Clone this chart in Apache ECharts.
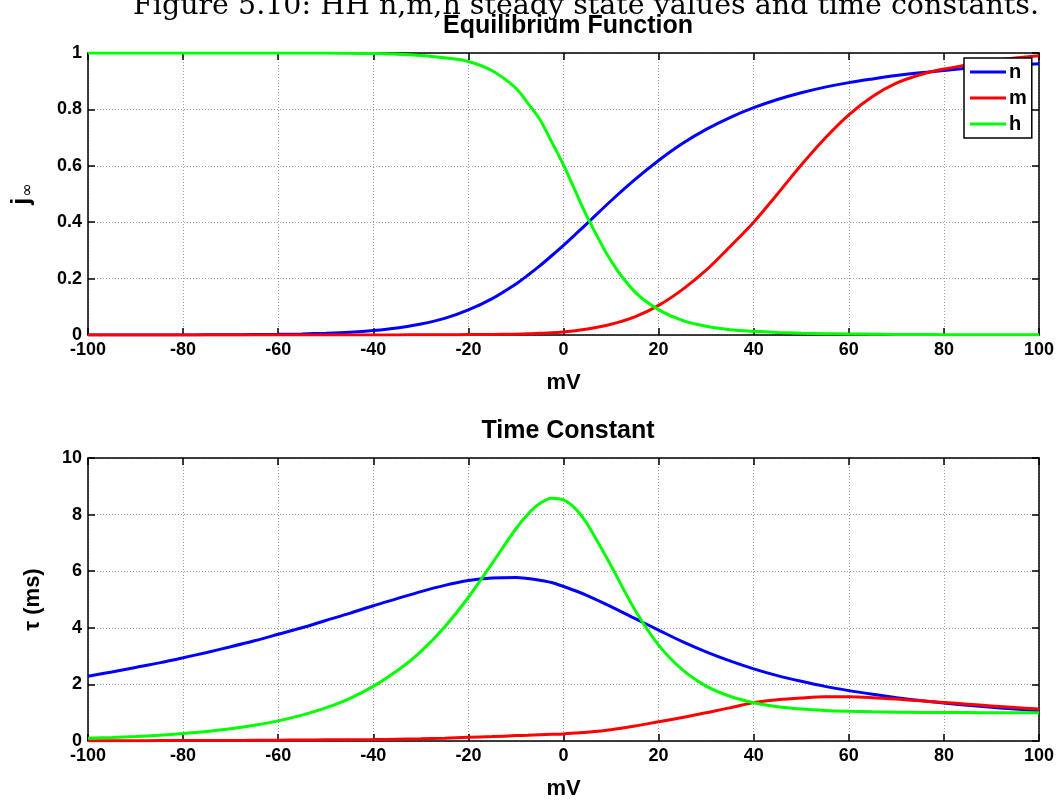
<!DOCTYPE html>
<html>
<head>
<meta charset="utf-8">
<script src="https://cdn.jsdelivr.net/npm/echarts@6/dist/echarts.min.js"></script>
<style>
html,body{margin:0;padding:0;background:#fff;}
#chart{width:1063px;height:801px;}
</style>
</head>
<body>
<div id="chart"></div>
<script>
// Membrane voltage (mV)
const voltage = [-100,-95,-90,-85,-80,-75,-70,-65,-60,-55,-50,-45,-40,-35,-30,-25,-20,-15,-10,-7.5,-5,-2.5,0,2.5,5,10,15,20,25,30,35,40,45,50,55,60,65,70,75,80,85,90,95,100];

// Equilibrium functions
const nInf = [0.000,0.000,0.0001,0.0002,0.0003,0.0005,0.0009,0.0015,0.0024,0.0038,0.0063,0.010,0.016,0.025,0.039,0.059,0.089,0.129,0.181,0.212,0.245,0.281,0.318,0.357,0.396,0.476,0.551,0.619,0.679,0.729,0.771,0.806,0.835,0.859,0.879,0.895,0.908,0.920,0.930,0.938,0.946,0.952,0.957,0.962];
const mInf = [0,0,0,0,0,0,0,0,0,0.0001,0.0001,0.0002,0.0003,0.0004,0.0006,0.0009,0.0014,0.002,0.003,0.004,0.006,0.008,0.011,0.015,0.021,0.038,0.064,0.105,0.161,0.230,0.313,0.400,0.500,0.603,0.698,0.781,0.846,0.893,0.923,0.943,0.958,0.973,0.982,0.990];
const hInf = [1,1,1,1,1,1,1,1,1,1,1,0.999,0.998,0.996,0.991,0.983,0.970,0.937,0.875,0.822,0.765,0.685,0.603,0.510,0.418,0.263,0.153,0.090,0.052,0.031,0.019,0.013,0.009,0.0065,0.0048,0.0036,0.0027,0.0021,0.0016,0.0013,0.001,0.0008,0.0006,0.0005];

// Time constants (ms)
const tauN = [2.29,2.44,2.60,2.76,2.94,3.13,3.33,3.54,3.77,4.00,4.26,4.51,4.78,5.03,5.28,5.50,5.67,5.76,5.78,5.74,5.68,5.60,5.46,5.31,5.14,4.75,4.33,3.92,3.51,3.15,2.83,2.55,2.31,2.11,1.93,1.78,1.65,1.53,1.43,1.34,1.26,1.19,1.13,1.07];
const tauM = [0.01,0.01,0.01,0.015,0.015,0.02,0.02,0.025,0.03,0.035,0.04,0.045,0.05,0.065,0.08,0.10,0.13,0.155,0.19,0.205,0.22,0.235,0.25,0.28,0.31,0.40,0.53,0.68,0.83,1.00,1.17,1.36,1.46,1.52,1.56,1.56,1.53,1.48,1.42,1.36,1.30,1.24,1.18,1.13];
const tauH = [0.096,0.124,0.159,0.204,0.262,0.336,0.431,0.554,0.711,0.913,1.17,1.50,1.93,2.48,3.16,4.03,5.08,6.28,7.50,8.01,8.39,8.58,8.52,8.21,7.67,6.19,4.64,3.39,2.52,1.94,1.58,1.35,1.21,1.13,1.08,1.05,1.03,1.02,1.01,1.005,1.003,1.002,1.001,1.0];

const seriesNames = ['n','m','h'];
const seriesColors = ['#0000ff','#ff0000','#00ff00'];
const figureCaption = 'Figure 5.10: HH n,m,h steady state values and time constants.';
</script>
<script>
const pairs = arr => voltage.map((v,i)=>[v, arr[i]]);
const chart = echarts.init(document.getElementById('chart'), null, {renderer:'canvas'});
const FONT = 'Liberation Sans, Arial, sans-serif';
const lbl = {fontFamily:FONT, fontWeight:'bold', fontSize:18, color:'#000'};
const gridLine = {show:true, lineStyle:{color:'#9a9a9a', type:[1,2], width:1}};
const axLine = {show:true, onZero:false, lineStyle:{color:'#000', width:1.5}};
const tick = {show:true, inside:true, length:7, lineStyle:{color:'#000', width:1.5}};

function xAx(grid, pos, main){
  return {type:'value', gridIndex:grid, position:pos, min:-100, max:100, interval:20,
    axisLine:axLine, axisTick:tick, axisLabel:main?Object.assign({margin:6}, lbl):{show:false},
    splitLine:main?gridLine:{show:false},
    name: main?'mV':'', nameLocation:'middle', nameGap:37,
    nameTextStyle:{fontFamily:FONT, fontWeight:'bold', fontSize:22, color:'#000'}};
}
function yAx(grid, pos, main, max, interval, name, nameStyle){
  return {type:'value', gridIndex:grid, position:pos, min:0, max:max, interval:interval,
    axisLine:axLine, axisTick:tick, axisLabel:main?Object.assign({margin:6}, lbl):{show:false},
    splitLine:main?gridLine:{show:false},
    name: main?name:'', nameLocation:'middle', nameRotate:90, nameGap:nameStyle.gap,
    nameTextStyle:nameStyle.style};
}

const lineSeries = (name, color, data, xi, yi) => ({
  name, type:'line', data, xAxisIndex:xi, yAxisIndex:yi, smooth:0.3,
  showSymbol:false, symbol:'none', lineStyle:{color, width:3}, itemStyle:{color}, z:3,
  animation:false
});

const option = {
  animation:false,
  backgroundColor:'#fff',
  title:[
    {text:'Equilibrium Function', left:563, top:9, textAlign:'center',
     textStyle:{fontFamily:FONT, fontWeight:'bold', fontSize:25, color:'#000'}},
    {text:'Time Constant', left:563, top:414, textAlign:'center',
     textStyle:{fontFamily:FONT, fontWeight:'bold', fontSize:25, color:'#000'}}
  ],
  graphic:[{type:'text', left:133, top:-8,
    style:{text:figureCaption, font:'28.5px "DejaVu Serif", serif', fill:'#000'}}],
  legend:{data:seriesNames, orient:'vertical', left:964, top:58,
    backgroundColor:'#fff', borderColor:'#000', borderWidth:1.5, borderRadius:0,
    padding:[4,5,4,6], itemGap:6, itemWidth:36, itemHeight:3, icon:'rect',
    textStyle:{fontFamily:FONT, fontWeight:'bold', fontSize:20, color:'#000', padding:[0,0,0,-2]}},
  grid:[
    {left:88, right:24, top:53, height:282, show:false},
    {left:88, right:24, top:458, height:283, show:false}
  ],
  xAxis:[xAx(0,'bottom',true), xAx(0,'top',false), xAx(1,'bottom',true), xAx(1,'top',false)],
  yAxis:[
    yAx(0,'left',true,1,0.2,'{j|j}{s|∞}',{gap:52, style:{rich:{
      j:{fontFamily:FONT, fontWeight:'bold', fontSize:25, color:'#000'},
      s:{fontFamily:'DejaVu Sans, sans-serif', fontSize:16, color:'#000', verticalAlign:'bottom', padding:[12,0,0,1]}}}}),
    yAx(0,'right',false,1,0.2,'',{gap:0, style:{}}),
    yAx(1,'left',true,10,2,'τ (ms)',{gap:44, style:{fontFamily:FONT, fontWeight:'bold', fontSize:22, color:'#000'}}),
    yAx(1,'right',false,10,2,'',{gap:0, style:{}})
  ],
  series:[
    lineSeries('n', seriesColors[0], pairs(nInf), 0, 0),
    lineSeries('m', seriesColors[1], pairs(mInf), 0, 0),
    lineSeries('h', seriesColors[2], pairs(hInf), 0, 0),
    lineSeries('n', seriesColors[0], pairs(tauN), 2, 2),
    lineSeries('m', seriesColors[1], pairs(tauM), 2, 2),
    lineSeries('h', seriesColors[2], pairs(tauH), 2, 2)
  ]
};
chart.setOption(option);
</script>
</body>
</html>
